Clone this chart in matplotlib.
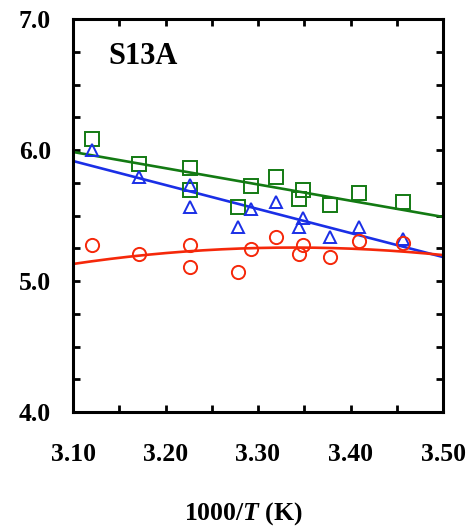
import matplotlib
matplotlib.use("Agg")
import matplotlib.pyplot as plt
import numpy as np
from matplotlib.ticker import MultipleLocator, FixedLocator, FixedFormatter

plt.rcParams['font.family'] = ['Liberation Serif', 'DejaVu Serif']
plt.rcParams['font.weight'] = 'bold'
plt.rcParams['mathtext.fontset'] = 'custom'
plt.rcParams['mathtext.rm'] = 'Liberation Serif:bold'
plt.rcParams['mathtext.it'] = 'Liberation Serif:italic:bold'
plt.rcParams['mathtext.bf'] = 'Liberation Serif:bold'
plt.rcParams['mathtext.bfit'] = 'Liberation Serif:italic:bold'

# data
sq_x = [3.120, 3.171, 3.227, 3.226, 3.278, 3.292, 3.319, 3.344, 3.349, 3.378, 3.409, 3.457]
sq_y = [6.084, 5.893, 5.863, 5.695, 5.565, 5.725, 5.794, 5.626, 5.695, 5.580, 5.672, 5.603]
tri_x = [3.120, 3.171, 3.227, 3.226, 3.278, 3.292, 3.319, 3.344, 3.349, 3.378, 3.409, 3.457]
tri_y = [6.000, 5.794, 5.733, 5.565, 5.412, 5.550, 5.603, 5.412, 5.481, 5.336, 5.412, 5.320]
cir_x = [3.120, 3.171, 3.227, 3.226, 3.278, 3.292, 3.319, 3.344, 3.349, 3.378, 3.409, 3.457]
cir_y = [5.275, 5.206, 5.275, 5.107, 5.069, 5.244, 5.336, 5.206, 5.275, 5.183, 5.305, 5.290]

green_fit_x = [3.10, 3.50]
green_fit_y = [5.985, 5.489]
blue_fit_x = [3.10, 3.50]
blue_fit_y = [5.916, 5.183]
red_fit_x = [3.10, 3.30, 3.50]
red_fit_y = [5.130, 5.252, 5.198]

x_ticks = [3.10, 3.20, 3.30, 3.40, 3.50]
x_labels = ["3.10", "3.20", "3.30", "3.40", "3.50"]
y_ticks = [4.0, 5.0, 6.0, 7.0]
y_labels = ["4.0", "5.0", "6.0", "7.0"]

GREEN = '#137a13'
BLUE = '#1a2fe6'
RED = '#f5280a'

fig = plt.figure(figsize=(4.7, 5.29), dpi=100)
ax = fig.add_axes([73/470, 1-412/529, 370/470, 393/529])

# fit lines
ax.plot(green_fit_x, green_fit_y, color=GREEN, lw=1.9, zorder=2)
ax.plot(blue_fit_x, blue_fit_y, color=BLUE, lw=1.9, zorder=2)
coef = np.polyfit(red_fit_x, red_fit_y, 2)
xx = np.linspace(3.10, 3.50, 200)
ax.plot(xx, np.polyval(coef, xx), color=RED, lw=1.9, zorder=2)

ax.plot(sq_x, sq_y, ls='none', marker='s', ms=9.5, mfc='none', mec=GREEN, mew=1.4, zorder=3)
ax.plot(tri_x, tri_y, ls='none', marker='^', ms=9, mfc='none', mec=BLUE, mew=1.4, zorder=3)
ax.plot(cir_x, cir_y, ls='none', marker='o', ms=9.5, mfc='none', mec=RED, mew=1.4, zorder=3)

ax.set_xlim(3.10, 3.50)
ax.set_ylim(4.0, 7.0)
ax.xaxis.set_major_locator(FixedLocator(x_ticks))
ax.xaxis.set_major_formatter(FixedFormatter(x_labels))
ax.xaxis.set_minor_locator(MultipleLocator(0.05))
ax.yaxis.set_major_locator(FixedLocator(y_ticks))
ax.yaxis.set_major_formatter(FixedFormatter(y_labels))
ax.yaxis.set_minor_locator(MultipleLocator(0.25))

for s in ax.spines.values():
    s.set_linewidth(2.2)
ax.tick_params(which='both', direction='in', top=True, right=True, length=5, width=2.0)
ax.tick_params(axis='x', which='major', pad=22, labelsize=18.5)
ax.tick_params(axis='y', which='major', pad=16, labelsize=18.5)

ax.text(3.138, 6.71, "S13A", fontsize=22, fontweight='bold', va='center', ha='left')

ax.set_xlabel("1000/$\\mathbfit{T}$ (K)", fontsize=18.5, fontweight='bold')
ax.xaxis.set_label_coords((243 - 73) / 370, (412 - 500) / 393)

fig.savefig("out.png", dpi=100)
